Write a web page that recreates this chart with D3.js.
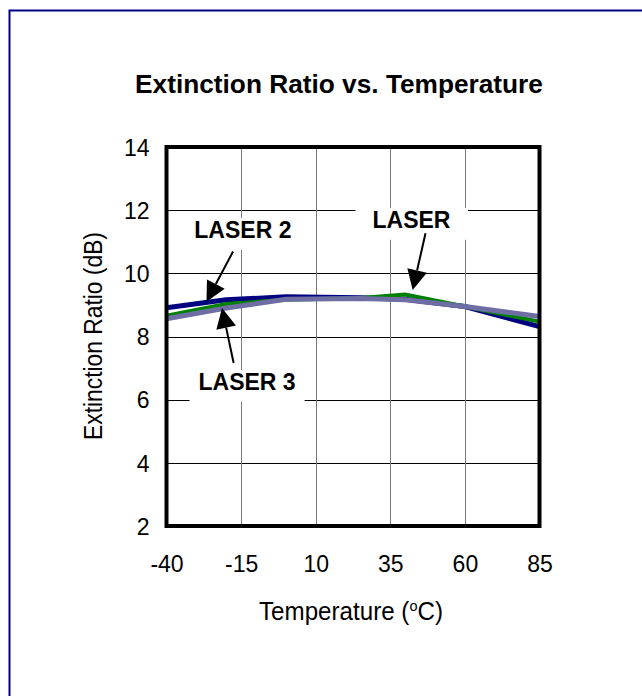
<!DOCTYPE html>
<html>
<head>
<meta charset="utf-8">
<script src="https://cdn.jsdelivr.net/npm/d3@7"></script>
<style>
  body { margin: 0; background: #fff; }
  svg { display: block; }
</style>
</head>
<body>
<div id="chart"></div>
<script>
// Data
// ===========================
var temps = [-40, -20, 0, 25, 40, 60, 85];
var laser = [8.66, 9.03, 9.16, 9.22, 9.33, 8.95, 8.47];
var laser2 = [8.91, 9.16, 9.26, 9.23, 9.18, 8.95, 8.31];
var laser3 = [8.56, 8.9, 9.18, 9.2, 9.16, 8.95, 8.63];

var xTicks = [-40, -15, 10, 35, 60, 85];
var yTicks = [2, 4, 6, 8, 10, 12, 14];

// label: [x, baseline y] ; arrow: [from x, from y, tip x, tip y] (data units)
var labelNames = ["LASER 2", "LASER", "LASER 3"];
var labelPos = [[-14.4, 11.12], [42.1, 11.44], [-13, 6.31]];
var arrowPos = [[-17.7, 10.69, -26.6, 9.1], [46.8, 11.27, 42.5, 9.47], [-17.5, 7.16, -21.4, 8.9]];

// Setup
// ===========================
var width = 642;
var height = 696;
var plot = { left: 166.5, right: 539.5, top: 147, bottom: 526 };
var sans = "'Liberation Sans', Arial, sans-serif";
var narrow = "'Liberation Sans Narrow', 'Arial Narrow', sans-serif";

var svg = d3.select("#chart")
  .append("svg")
  .attr("width", width)
  .attr("height", height);

// outer frame (only top and left edges inside the page)
svg.append("rect")
  .attr("x", 9.5).attr("y", 10.5)
  .attr("width", 700).attr("height", 700)
  .attr("fill", "none")
  .attr("stroke", "#000080")
  .attr("stroke-width", 2);

var xScale = d3.scaleLinear().domain([-40, 85]).range([plot.left, plot.right]);
var yScale = d3.scaleLinear().domain([2, 14]).range([plot.bottom, plot.top]);

// Grid
svg.append("g")
  .selectAll("line")
  .data(yTicks.slice(1, -1))
  .enter()
  .append("line")
  .attr("x1", plot.left).attr("x2", plot.right)
  .attr("y1", function(d) { return Math.round(yScale(d)) + 0.5; })
  .attr("y2", function(d) { return Math.round(yScale(d)) + 0.5; })
  .attr("stroke", "#000")
  .attr("stroke-width", 1);

svg.append("g")
  .selectAll("line")
  .data(xTicks.slice(1, -1))
  .enter()
  .append("line")
  .attr("x1", function(d) { return Math.round(xScale(d)) + 0.5; })
  .attr("x2", function(d) { return Math.round(xScale(d)) + 0.5; })
  .attr("y1", plot.top).attr("y2", plot.bottom)
  .attr("stroke", "#777")
  .attr("stroke-width", 1);

// Axes (labels only, the frame draws the lines)
var xAxis = d3.axisBottom(xScale).tickValues(xTicks).tickSize(0).tickPadding(0)
  .tickFormat(function(d) { return String(d); });
var yAxis = d3.axisLeft(yScale).tickValues(yTicks).tickSize(0).tickPadding(0)
  .tickFormat(function(d) { return String(d); });

var gx = svg.append("g")
  .attr("transform", "translate(0," + (plot.bottom + 46) + ")")
  .call(xAxis);
gx.select(".domain").remove();
gx.selectAll("text")
  .attr("dy", 0)
  .style("font-family", sans)
  .style("font-size", "23px")
  .attr("fill", "#000");

var gy = svg.append("g")
  .attr("transform", "translate(" + (plot.left - 17) + ",0)")
  .call(yAxis);
gy.select(".domain").remove();
gy.selectAll("text")
  .attr("dy", "0.36em")
  .style("font-family", sans)
  .style("font-size", "23px")
  .attr("fill", "#000");

// Series
var line = d3.line()
  .x(function(d, i) { return xScale(temps[i]); })
  .y(function(d) { return yScale(d); });

var series = [
  { values: laser2, color: "#000080", w: 5 },
  { values: laser, color: "#008000", w: 4 },
  { values: laser3, color: "#6e6ea4", w: 5 }
];

svg.append("g")
  .selectAll("path")
  .data(series)
  .enter()
  .append("path")
  .attr("d", function(d) { return line(d.values); })
  .attr("fill", "none")
  .attr("stroke", function(d) { return d.color; })
  .attr("stroke-width", function(d) { return d.w; })
  .attr("stroke-linejoin", "miter");

// Frame of the plot
svg.append("rect")
  .attr("x", plot.left).attr("y", plot.top)
  .attr("width", plot.right - plot.left)
  .attr("height", plot.bottom - plot.top)
  .attr("fill", "none")
  .attr("stroke", "#000")
  .attr("stroke-width", 4);

// Annotations
var ann = svg.append("g");
labelNames.forEach(function(name, i) {
  var g = ann.append("g");
  var bg = g.append("rect").attr("fill", "#fff");
  var t = g.append("text")
    .attr("x", xScale(labelPos[i][0]))
    .attr("y", yScale(labelPos[i][1]))
    .attr("text-anchor", "middle")
    .style("font-family", sans)
    .style("font-weight", "bold")
    .style("font-size", "23px")
    .text(name);
  var bb = t.node().getBBox();
  var padX = name === "LASER" ? 17 : 9;
  bg.attr("x", bb.x - padX).attr("y", bb.y + 1)
    .attr("width", bb.width + padX * 2).attr("height", bb.height + 6);

  var a = arrowPos[i];
  var x1 = xScale(a[0]), y1 = yScale(a[1]), x2 = xScale(a[2]), y2 = yScale(a[3]);
  var ang = Math.atan2(y2 - y1, x2 - x1);
  var headL = 20, headW = 10;
  var bx = x2 - headL * Math.cos(ang), by = y2 - headL * Math.sin(ang);
  g.append("line")
    .attr("x1", x1).attr("y1", y1).attr("x2", bx).attr("y2", by)
    .attr("stroke", "#000").attr("stroke-width", 2);
  g.append("path")
    .attr("d", d3.line()([
      [x2, y2],
      [bx + headW * Math.sin(ang), by - headW * Math.cos(ang)],
      [bx - headW * Math.sin(ang), by + headW * Math.cos(ang)]
    ]) + "Z")
    .attr("fill", "#000");
});

// Titles
// squeeze a text horizontally to a target width around its centre
function fitWidth(sel, cx, target) {
  var w = sel.node().getBBox().width;
  sel.attr("transform", "translate(" + cx + ",0) scale(" + (target / w) + ",1) translate(" + (-cx) + ",0)");
}

var title = svg.append("text")
  .attr("x", 339)
  .attr("y", 93)
  .attr("text-anchor", "middle")
  .style("font-family", narrow)
  .style("font-weight", "bold")
  .style("font-size", "25px")
  .text("Extinction Ratio vs. Temperature");
fitWidth(title, 339, 408);

var xt = svg.append("text")
  .attr("x", 351)
  .attr("y", 620)
  .attr("text-anchor", "middle")
  .style("font-family", narrow)
  .style("font-size", "25px");
xt.append("tspan").text("Temperature (");
xt.append("tspan").attr("dy", -9).style("font-size", "15px").text("o");
xt.append("tspan").attr("dy", 9).text("C)");
fitWidth(xt, 351, 184);

var yt = svg.append("g").attr("transform", "translate(102,336) rotate(-90)");
var ytText = yt.append("text")
  .attr("x", 0).attr("y", 0)
  .attr("text-anchor", "middle")
  .style("font-family", narrow)
  .style("font-size", "25px")
  .text("Extinction Ratio (dB)");
fitWidth(ytText, 0, 208);
</script>
</body>
</html>
